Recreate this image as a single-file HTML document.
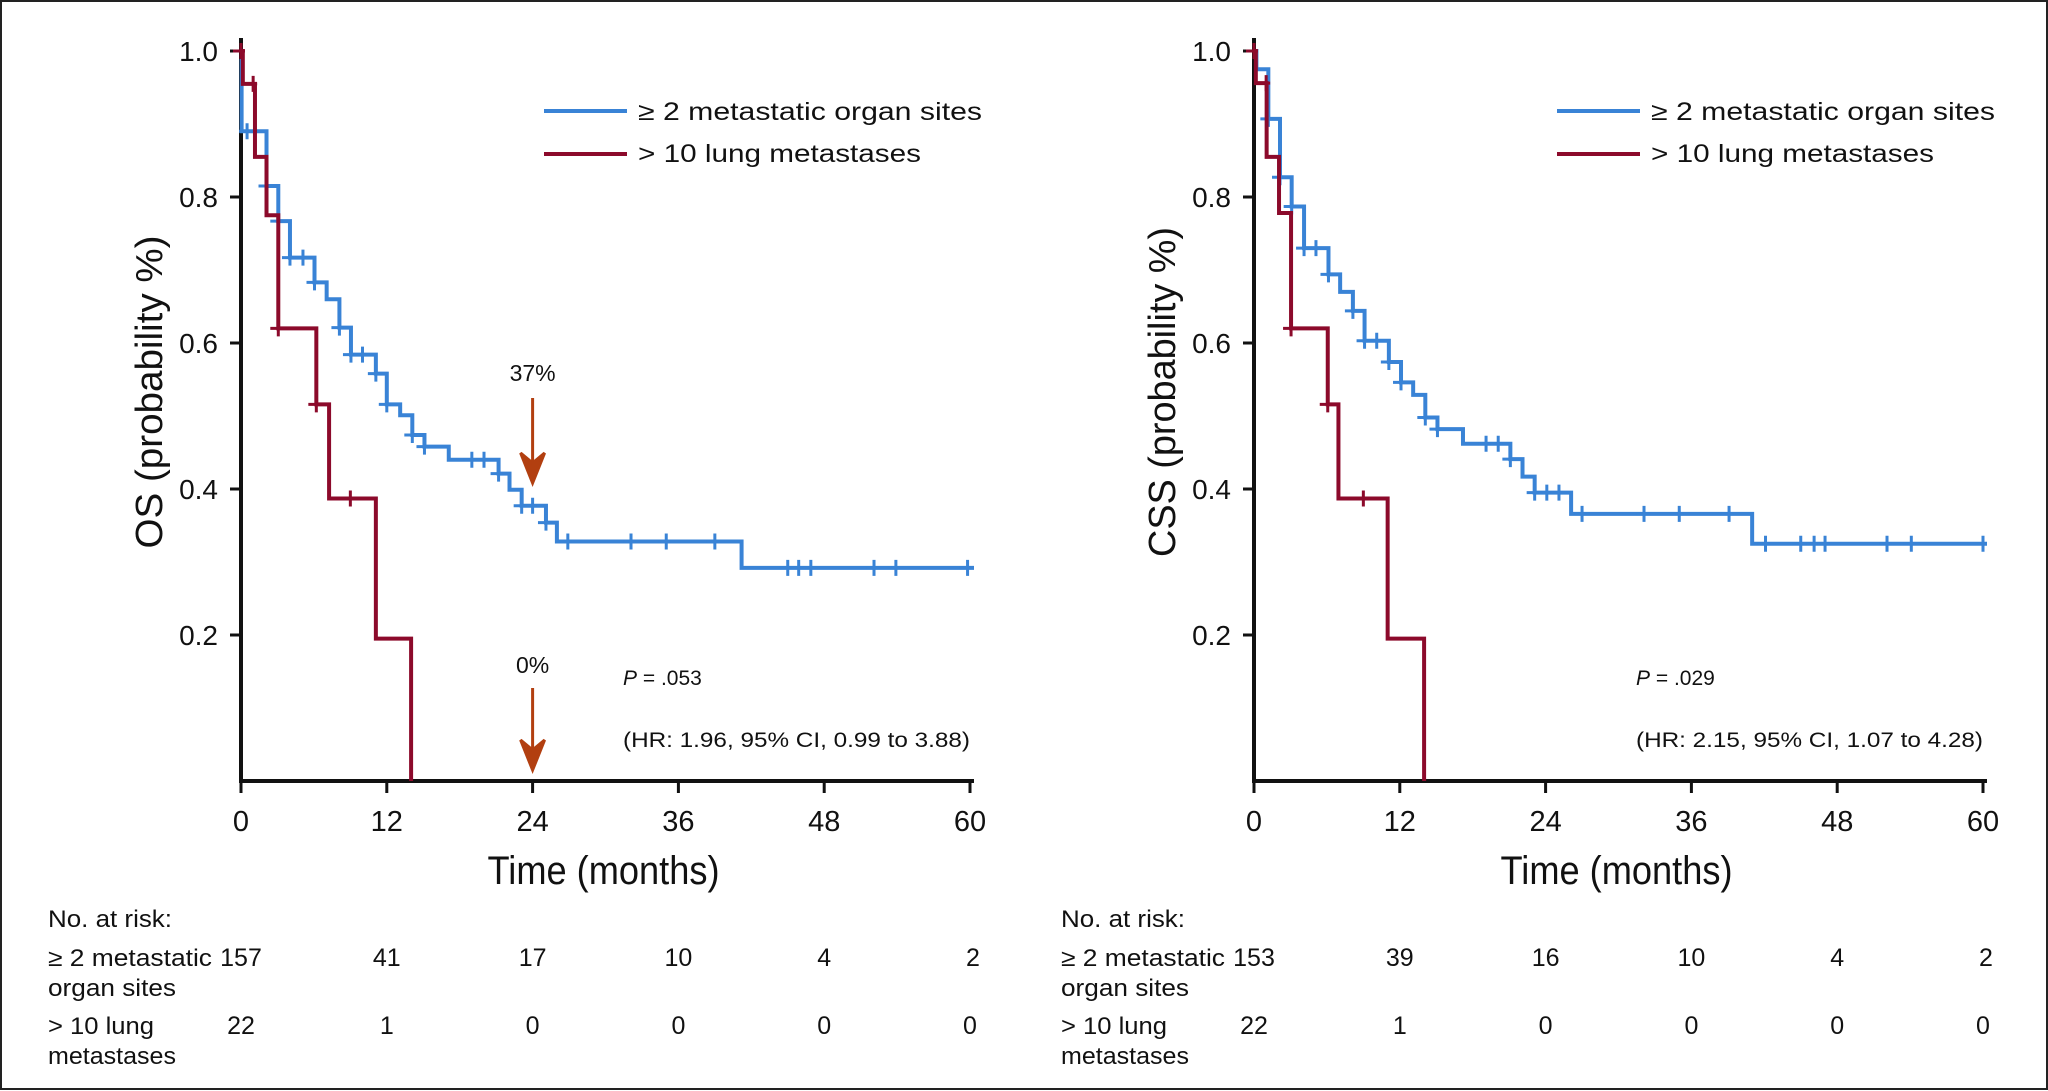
<!DOCTYPE html>
<html><head><meta charset="utf-8">
<style>
html,body{margin:0;padding:0;background:#fff;}
svg{display:block;}
.c{font-family:"Liberation Sans Narrow","Liberation Sans",sans-serif;fill:#111;}
.n{font-family:"Liberation Sans",sans-serif;fill:#111;}
</style></head>
<body>
<svg id="chart" width="2048" height="1091" viewBox="0 0 2048 1091" xmlns="http://www.w3.org/2000/svg">
<rect x="1" y="1" width="2046" height="1088" fill="#fff" stroke="#222" stroke-width="2"/>
</svg>
<script>
// ---- data ----
const xTicks = [0, 12, 24, 36, 48, 60];
const yTicks = [0.2, 0.4, 0.6, 0.8, 1.0];
const yTickLabels = ["0.2", "0.4", "0.6", "0.8", "1.0"];

const osBlueT = [0, 0.05, 2.1, 3.07, 4.03, 6.05, 7.05, 8.1, 9.05, 11.1, 12.0, 13.1, 14.1, 15.1, 17.1, 21.2, 22.1, 23.1, 25.1, 26.0, 41.2];
const osBlueS = [1.0, 0.89, 0.815, 0.767, 0.717, 0.683, 0.660, 0.621, 0.584, 0.558, 0.516, 0.501, 0.474, 0.458, 0.440, 0.421, 0.399, 0.377, 0.354, 0.328, 0.292];
const osBlueCens = [0.5, 2.1, 3.07, 4.03, 5.1, 6.05, 8.1, 9.05, 10.0, 11.1, 12.0, 14.1, 15.1, 19.0, 20.0, 21.2, 23.1, 24.0, 25.1, 26.9, 32.1, 35.0, 39.0, 45.0, 45.9, 46.9, 52.1, 53.9, 59.8];
const osRedT = [0, 0.15, 1.15, 2.1, 3.07, 6.2, 7.25, 11.1, 14.0];
const osRedS = [1.0, 0.955, 0.855, 0.775, 0.62, 0.516, 0.387, 0.195, 0];
const osRedCens = [0, 1.0, 3.07, 6.2, 9.0];

const cssBlueT = [0, 0.2, 1.18, 2.14, 3.1, 4.12, 6.13, 7.09, 8.14, 9.1, 11.1, 12.1, 13.1, 14.1, 15.1, 17.2, 21.1, 22.1, 23.1, 26.1, 41.0];
const cssBlueS = [1.0, 0.975, 0.907, 0.827, 0.787, 0.730, 0.694, 0.670, 0.644, 0.603, 0.574, 0.546, 0.529, 0.498, 0.482, 0.462, 0.441, 0.417, 0.395, 0.366, 0.325];
const cssBlueCens = [1.18, 2.14, 3.1, 4.12, 5.1, 6.13, 8.14, 9.1, 10.1, 11.1, 12.1, 14.1, 15.1, 19.1, 20.1, 21.1, 23.1, 24.1, 25.1, 27.0, 32.1, 35.0, 39.1, 42.1, 45.0, 46.1, 47.0, 52.1, 54.1, 60];
const cssRedT = [0, 0.15, 1.04, 2.06, 3.05, 6.07, 6.95, 11.0, 14.0];
const cssRedS = [1.0, 0.956, 0.855, 0.778, 0.62, 0.516, 0.387, 0.195, 0];
const cssRedCens = [0, 1.0, 3.05, 6.07, 9.0];

const osRiskBlue = ["157", "41", "17", "10", "4", "2"];
const osRiskRed = ["22", "1", "0", "0", "0", "0"];
const cssRiskBlue = ["153", "39", "16", "10", "4", "2"];
const cssRiskRed = ["22", "1", "0", "0", "0", "0"];

const BLUE = "#3983d6", RED = "#8c0a2b", ARROW = "#b23f10";
const svg = document.getElementById("chart");
const NS = "http://www.w3.org/2000/svg";
function mk(tag, attrs, parent) {
  const e = document.createElementNS(NS, tag);
  for (const k in attrs) e.setAttribute(k, attrs[k]);
  (parent || svg).appendChild(e);
  return e;
}
function txt(s, attrs, parent) { const e = mk("text", attrs, parent); e.textContent = s; return e; }

function stepVal(T, S, t) { let v = S[0]; for (let i = 0; i < T.length; i++) if (t >= T[i]) v = S[i]; return v; }

function panel(off, yTitle, bT, bS, bC, rT, rS, rC, riskB, riskR, pText, hrText, withArrows) {
  const x0 = 241 + off, x1 = 970 + off;
  const X = t => x0 + (x1 - x0) * t / 60;
  const Y = p => 781 - 730 * p;
  const g = mk("g", {});
  
  

  const ya = mk("line", {x1: x0, y1: 38, x2: x0, y2: 783, stroke: "#111", "stroke-width": 4}, g);
  
  
  const xa = mk("line", {x1: x0 - 2, y1: 781, x2: x1 + 4, y2: 781, stroke: "#111", "stroke-width": 4}, g);
  
  

  yTicks.forEach((v, i) => {
    const tk = mk("line", {x1: x0 - 11, y1: Y(v), x2: x0, y2: Y(v), stroke: "#111", "stroke-width": 3}, g);
    
    
    const lb = txt(yTickLabels[i], {x: x0 - 23, y: Y(v) + 10, "text-anchor": "end", "font-size": 28, class: "n"}, g);
    
    
  });
  xTicks.forEach(v => {
    const tk = mk("line", {x1: X(v), y1: 781, x2: X(v), y2: 793, stroke: "#111", "stroke-width": 3}, g);
    
    
    const lb = txt(String(v), {x: X(v), y: 831, "text-anchor": "middle", "font-size": 29, class: "c"}, g);
    
    
  });
  const xt = txt("Time (months)", {x: X(30) - 2, y: 884, "text-anchor": "middle", "font-size": 40, class: "c", textLength: 232, lengthAdjust: "spacingAndGlyphs"}, g);
  
  
  const ytx = x0 - 79, yty = 392;
  const yt = txt(yTitle, {x: ytx, y: yty, "text-anchor": "middle", "font-size": 38, class: "c", transform: `rotate(-90 ${ytx} ${yty})`, textLength: off ? 330 : 313, lengthAdjust: "spacingAndGlyphs"}, g);
  
  

  function curve(T, S, C, color, name) {
    let d = `M${X(T[0])},${Y(S[0])}`;
    for (let i = 1; i < T.length; i++) d += ` H${X(T[i])} V${Y(S[i])}`;
    if (S[S.length - 1] > 0) d += ` H${X(60) + 4}`;
    const p = mk("path", {d: d, fill: "none", stroke: color, "stroke-width": 4, "stroke-linejoin": "miter"}, g);
    
    
    C.forEach(t => {
      const cx = X(t), cy = Y(stepVal(T, S, t));
      const m = mk("path", {d: `M${cx - 8},${cy} H${cx + 4} M${cx},${cy - 8} V${cy + 8}`, stroke: color, "stroke-width": 3, fill: "none"}, g);
      
      
    });
  }
  curve(bT, bS, bC, BLUE, "metastatic-sites");
  curve(rT, rS, rC, RED, "lung-metastases");

  const l1 = mk("line", {x1: 544 + off, y1: 111, x2: 627 + off, y2: 111, stroke: BLUE, "stroke-width": 4}, g);
  
  
  const lt1 = txt("≥ 2 metastatic organ sites", {x: 638 + off, y: 120, "font-size": 25, class: "n", textLength: 344, lengthAdjust: "spacingAndGlyphs"}, g);
  
  
  const l2 = mk("line", {x1: 544 + off, y1: 154, x2: 627 + off, y2: 154, stroke: RED, "stroke-width": 4}, g);
  
  
  const lt2 = txt("> 10 lung metastases", {x: 638 + off, y: 162, "font-size": 25, class: "n", textLength: 283, lengthAdjust: "spacingAndGlyphs"}, g);
  
  

  const pt = txt("", {x: 623 + off, y: 685, "font-size": 21, class: "n"}, g);
  pt.innerHTML = `<tspan font-style="italic">P</tspan> = ${pText}`;
  
  
  const hr = txt(hrText, {x: 623 + off, y: 747, "font-size": 21, class: "n", textLength: 347, lengthAdjust: "spacingAndGlyphs"}, g);
  
  

  if (withArrows) {
    const ax = X(24);
    [[373, 398, 483, "37%", "arrow-37"], [665, 688, 770, "0%", "arrow-0"]].forEach(a => {
      const lb = txt(a[3], {x: ax, y: a[0] + 8, "text-anchor": "middle", "font-size": 23, class: "n"}, g);
      
      
      const s = mk("path", {d: `M${ax},${a[1]} V${a[2] - 20} M${ax - 12},${a[2] - 30} L${ax},${a[2] - 20} L${ax + 12},${a[2] - 30} L${ax},${a[2]} Z`, stroke: ARROW, "stroke-width": 3, fill: ARROW}, g);
      
      
    });
  }

  const rx = 48 + off;
  const h = txt("No. at risk:", {x: rx, y: 927, "font-size": 24, class: "c", textLength: 124, lengthAdjust: "spacingAndGlyphs"}, g);
  
  
  [["≥ 2 metastatic", 966, 164], ["organ sites", 996, 128], ["> 10 lung", 1034, 106], ["metastases", 1064, 128]].forEach(r => {
    const e = txt(r[0], {x: rx, y: r[1], "font-size": 24, class: "c", textLength: r[2], lengthAdjust: "spacingAndGlyphs"}, g);
    
    
  });
  xTicks.forEach((v, i) => {
    const a = txt(riskB[i], {x: X(v) + (i === 5 ? 3 : 0), y: 966, "text-anchor": "middle", "font-size": 25, class: "c"}, g);
    
    
    const b = txt(riskR[i], {x: X(v), y: 1034, "text-anchor": "middle", "font-size": 25, class: "c"}, g);
    
    
  });
}

panel(0, "OS (probability %)", osBlueT, osBlueS, osBlueCens, osRedT, osRedS, osRedCens, osRiskBlue, osRiskRed, ".053", "(HR: 1.96, 95% CI, 0.99 to 3.88)", true);
panel(1013, "CSS (probability %)", cssBlueT, cssBlueS, cssBlueCens, cssRedT, cssRedS, cssRedCens, cssRiskBlue, cssRiskRed, ".029", "(HR: 2.15, 95% CI, 1.07 to 4.28)", false);
</script>
</body></html>
